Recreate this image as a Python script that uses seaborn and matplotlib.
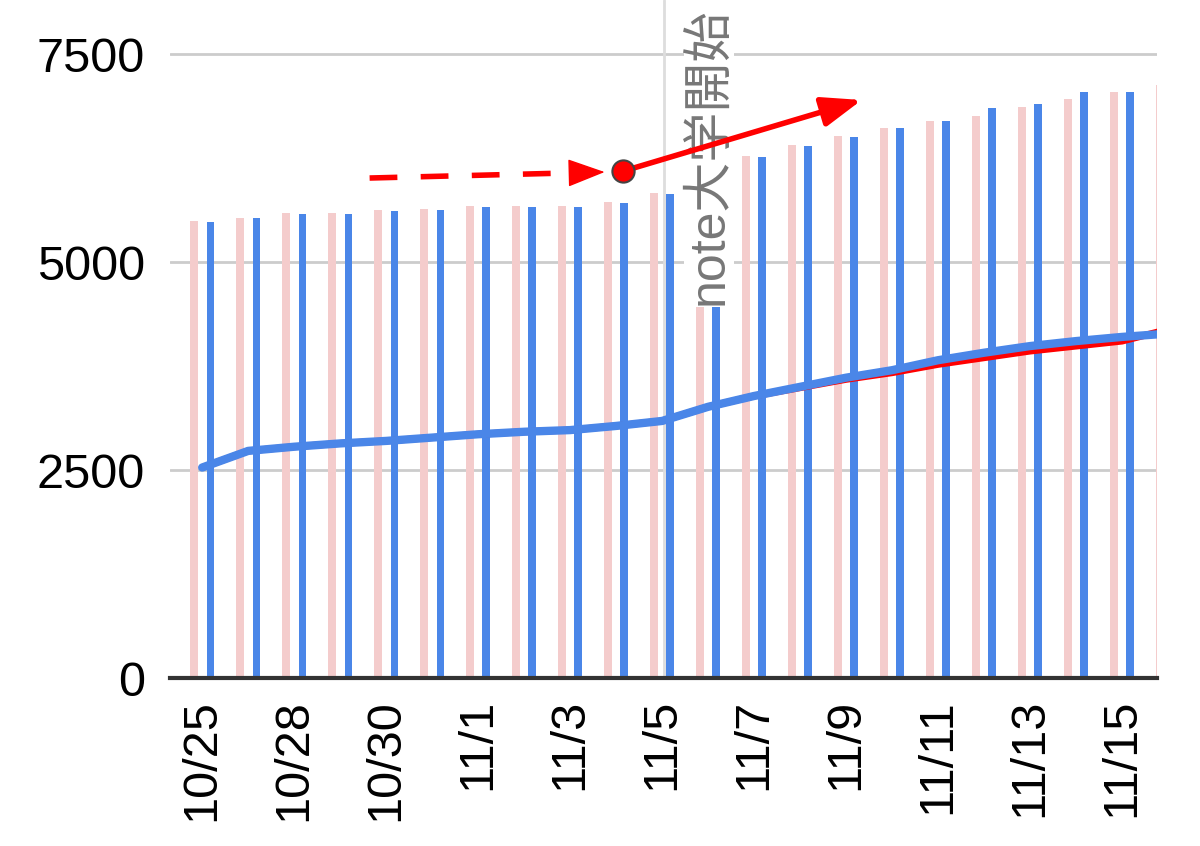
import matplotlib
matplotlib.use("Agg")
import matplotlib.pyplot as plt
import seaborn as sns
import numpy as np
import pandas as pd

# --- data ---
dates = ["10/25", "10/27", "10/28", "10/29", "10/30", "10/31", "11/1", "11/2",
         "11/3", "11/4", "11/5", "11/6", "11/7", "11/8", "11/9", "11/10",
         "11/11", "11/12", "11/13", "11/14", "11/15", "11/16"]
pink_bars = [5490, 5530, 5590, 5590, 5625, 5640, 5670, 5670, 5670, 5720, 5830,
             5950, 6270, 6410, 6520, 6610, 6700, 6755, 6865, 6960, 7045, 7130]
blue_bars = [5480, 5530, 5580, 5580, 5615, 5625, 5660, 5660, 5660, 5710, 5820,
             5960, 6260, 6395, 6505, 6610, 6695, 6850, 6900, 7045, 7045, 7130]
blue_line = [2530, 2730, 2780, 2820, 2850, 2890, 2930, 2960, 2980, 3030, 3090,
             3260, 3390, 3500, 3610, 3700, 3820, 3910, 3990, 4050, 4100, 4140]
red_line = [2530, 2730, 2780, 2820, 2850, 2890, 2930, 2960, 2980, 3030, 3090,
            3260, 3390, 3490, 3590, 3670, 3770, 3850, 3930, 3990, 4050, 4190]
y_ticks = [0, 2500, 5000, 7500]

event_label = "note大学開始"
event_pos = 10.05          # just after 11/5
label_pos = (11.02, 4480)
dash_start, dash_end = (3.64, 6010), (8.75, 6082)
dot_pos = (9.16, 6094)
arrow_end = (14.34, 6948)

PINK = "#f4cccc"
BLUE = "#4a86e8"

sns.set_theme(style="white")
plt.rcParams["font.family"] = ["Liberation Sans", "Noto Sans CJK JP", "DejaVu Sans"]

fig = plt.figure(figsize=(12, 8.46), dpi=100, facecolor="white")
ax = fig.add_axes([170 / 1200, 168 / 846, 987 / 1200, 678 / 846])

n = len(dates)
df = pd.DataFrame({
    "date": dates * 2,
    "series": ["pink"] * n + ["blue"] * n,
    "value": pink_bars + blue_bars,
})
sns.barplot(data=df, x="date", y="value", hue="series", palette=[PINK, BLUE],
            saturation=1, width=0.7, gap=0.54, linewidth=0, errorbar=None,
            legend=False, ax=ax, zorder=2)

idx = np.arange(n)
sns.lineplot(x=idx, y=red_line, color="red", lw=5, ax=ax, zorder=3)
sns.lineplot(x=idx, y=blue_line, color=BLUE, lw=6, ax=ax, zorder=4)

ax.set_xlim(-0.7, 20.76)
ax.set_ylim(0, 8150)
ax.set_yticks(y_ticks)
ax.set_yticklabels([str(v) for v in y_ticks], fontsize=35)
ax.set_xticks(idx[::2])
ax.set_xticklabels(dates[::2], rotation=90, fontsize=35)
ax.tick_params(axis="y", length=0, pad=18, colors="black")
ax.tick_params(axis="x", length=0, pad=15, colors="black")
ax.set_xlabel("")
ax.set_ylabel("")

ax.yaxis.grid(True, color="#cccccc", lw=2)
ax.set_axisbelow(True)
for s in ["top", "right", "left"]:
    ax.spines[s].set_visible(False)
ax.spines["bottom"].set_color("#333333")
ax.spines["bottom"].set_linewidth(3)
ax.spines["bottom"].set_zorder(6)

# event marker
ax.axvline(event_pos, color="#dddddd", lw=2, zorder=1)
ax.text(label_pos[0], label_pos[1], event_label, rotation=90, ha="center", va="bottom",
        fontsize=36, color="#777777",
        bbox=dict(facecolor="white", edgecolor="none", pad=1), zorder=5)

# red arrows
ax.plot([dash_start[0], dash_end[0] - 0.7], [dash_start[1], dash_end[1] - 10],
        color="red", lw=4, dashes=(5, 4.2), zorder=7)
ax.annotate("", xy=dash_end, xytext=(dash_end[0] - 0.72, dash_end[1] - 10),
            arrowprops=dict(arrowstyle="-|>,head_length=1.2,head_width=0.45",
                            mutation_scale=20, color="red", lw=1,
                            shrinkA=0, shrinkB=0), zorder=7)
ax.annotate("", xy=arrow_end, xytext=dot_pos,
            arrowprops=dict(arrowstyle="-|>,head_length=1.2,head_width=0.45",
                            mutation_scale=20, color="red", lw=4,
                            shrinkA=0, shrinkB=0), zorder=7)
ax.plot([dot_pos[0]], [dot_pos[1]], marker="o", markersize=16, color="red",
        markeredgecolor="#444444", markeredgewidth=1.5, zorder=8)

fig.savefig("out.png", dpi=100, facecolor="white")
